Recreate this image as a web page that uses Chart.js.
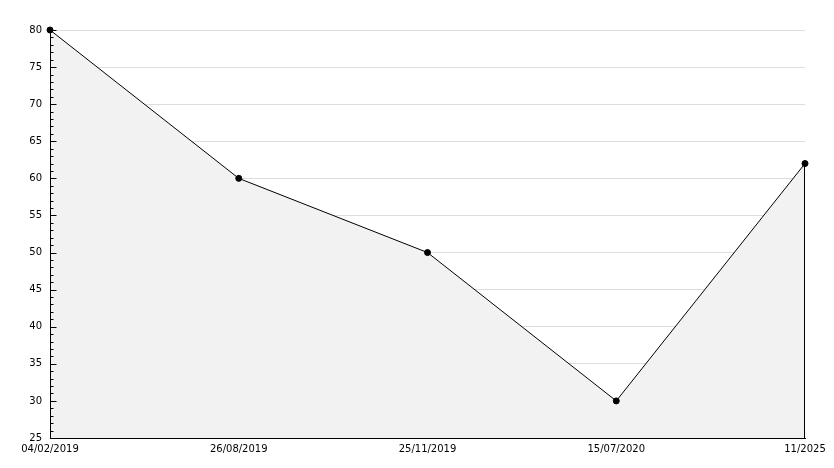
<!DOCTYPE html>
<html>
<head>
<meta charset="utf-8">
<script src="https://cdn.jsdelivr.net/npm/chart.js@4/dist/chart.umd.min.js"></script>
<style>
  html, body { margin: 0; padding: 0; background: #fff; }
  #wrap { width: 834px; height: 468px; position: relative; }
</style>
</head>
<body>
<div id="wrap"><canvas id="lineChart"></canvas></div>
<script>
// data
const dates = ['04/02/2019', '26/08/2019', '25/11/2019', '15/07/2020', '11/2025'];
const values = [80, 60, 50, 30, 62];
const yMin = 25;
const yMax = 80;

// axis lines and ticks drawn over the fill (major every 5, minor every 1),
// plus the black outline on the right of the filled area
const innerTicks = {
    id: 'innerTicks',
    afterDatasetsDraw(chart) {
        const ctx = chart.ctx;
        const y = chart.scales.y;
        const x = chart.scales.x;
        const left = chart.chartArea.left + 0.5;
        const bottom = Math.round(y.getPixelForValue(yMin)) + 0.5;
        ctx.save();
        ctx.strokeStyle = '#000';
        ctx.lineWidth = 1;
        ctx.beginPath();
        ctx.moveTo(left, y.getPixelForValue(yMax) - 1);
        ctx.lineTo(left, bottom);
        ctx.lineTo(chart.chartArea.right, bottom);
        for (let v = yMin; v <= yMax; v++) {
            const py = Math.round(y.getPixelForValue(v)) + 0.5;
            const len = v % 5 === 0 ? 6 : 3;
            ctx.moveTo(left, py);
            ctx.lineTo(left + len, py);
        }
        // right edge of the area
        const lastX = Math.round(x.getPixelForValue(values.length - 1)) - 0.5;
        ctx.moveTo(lastX, y.getPixelForValue(values[values.length - 1]));
        ctx.lineTo(lastX, bottom);
        ctx.stroke();
        ctx.restore();
    }
};

function initChart() {
    const ctx = document.getElementById('lineChart').getContext('2d');
    new Chart(ctx, {
        type: 'line',
        data: {
            labels: dates,
            datasets: [{
                data: values,
                borderColor: '#000',
                borderWidth: 1,
                backgroundColor: '#f2f2f2',
                fill: 'start',
                tension: 0,
                clip: false,
                pointRadius: 3,
                pointBackgroundColor: '#000',
                pointBorderColor: '#000',
                pointBorderWidth: 1
            }]
        },
        options: {
            responsive: false,
            animation: false,
            devicePixelRatio: 1,
            layout: { padding: { top: 30, right: 29, bottom: 0, left: 0 } },
            plugins: {
                legend: { display: false },
                tooltip: { enabled: false }
            },
            scales: {
                x: {
                    offset: false,
                    afterFit: s => { s.height = 30; },
                    grid: { display: false, drawTicks: false },
                    border: { color: '#000', width: 1 },
                    ticks: {
                        color: '#000',
                        font: { family: 'DejaVu Sans', size: 10 },
                        maxRotation: 0,
                        autoSkip: false,
                        padding: 5
                    }
                },
                y: {
                    min: yMin,
                    max: yMax,
                    afterFit: s => { s.width = 50; },
                    grid: {
                        color: '#dddddd',
                        drawTicks: false
                    },
                    border: { color: '#000', width: 1 },
                    ticks: {
                        stepSize: 5,
                        color: '#000',
                        font: { family: 'DejaVu Sans', size: 10 },
                        padding: 8
                    }
                }
            }
        },
        plugins: [innerTicks]
    });
}

const cv = document.getElementById('lineChart');
cv.width = 834;
cv.height = 468;
window.onload = initChart;
</script>
</body>
</html>
